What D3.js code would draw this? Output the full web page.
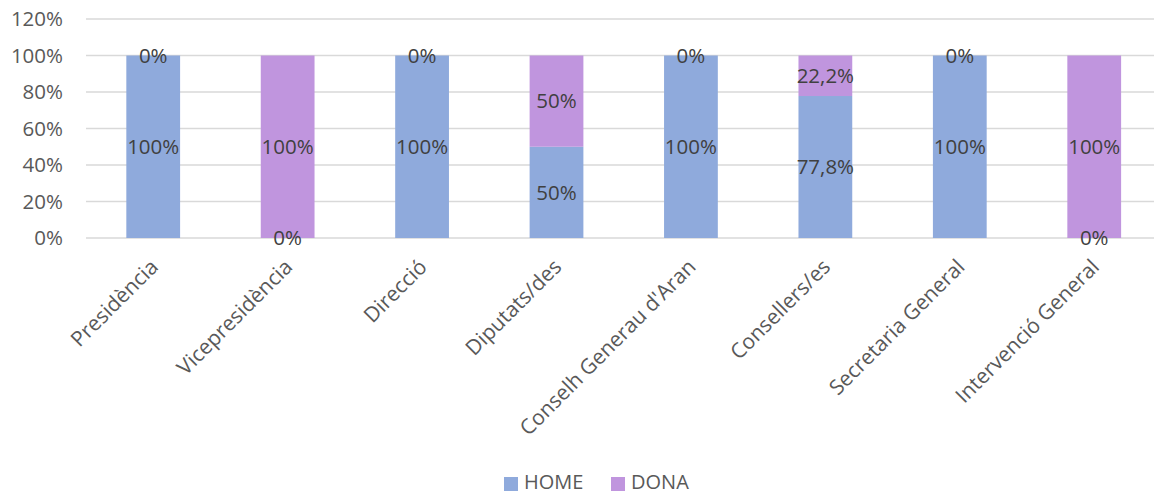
<!DOCTYPE html>
<html>
<head>
<meta charset="utf-8">
<script src="https://cdn.jsdelivr.net/npm/d3@7"></script>
<style>
  body { margin: 0; background: #fff; }
  text { font-family: "Open Sans", sans-serif; }
</style>
</head>
<body>
<div id="chart"></div>
<script>
// Chart data
var categories = ["Presidència", "Vicepresidència", "Direcció", "Diputats/des",
                  "Conselh Generau d'Aran", "Consellers/es", "Secretaria General", "Intervenció General"];
var home = [100, 0, 100, 50, 100, 77.8, 100, 0];
var dona = [0, 100, 0, 50, 0, 22.2, 0, 100];
var homeLabels = ["100%", "0%", "100%", "50%", "100%", "77,8%", "100%", "0%"];
var donaLabels = ["0%", "100%", "0%", "50%", "0%", "22,2%", "0%", "100%"];
var yTicks = [0, 20, 40, 60, 80, 100, 120];
var seriesNames = ["HOME", "DONA"];
var colors = ["#8FAADC", "#C095DE"];

var W = 1154, H = 495;
var margin = {top: 19, left: 86, bottom: 257};
var plotW = 134.43 * categories.length;
var plotH = H - margin.top - margin.bottom;
var fs = 20.5;

var svg = d3.select("#chart")
  .append("svg")
    .attr("width", W)
    .attr("height", H);

var g = svg.append("g")
  .attr("transform", "translate(" + margin.left + "," + margin.top + ")");

var x = d3.scaleBand()
  .domain(categories)
  .range([0, plotW])
  .paddingInner(0.6)
  .paddingOuter(0.3);

var y = d3.scaleLinear()
  .domain([0, 120])
  .range([plotH, 0]);

// gridlines
g.selectAll(".grid")
  .data(yTicks)
  .enter()
  .append("line")
    .attr("x1", 0)
    .attr("x2", plotW)
    .attr("y1", d => y(d))
    .attr("y2", d => y(d))
    .attr("stroke", "#D9D9D9")
    .attr("stroke-width", 1.3);

// y axis labels
g.selectAll(".ytick")
  .data(yTicks)
  .enter()
  .append("text")
    .attr("x", -23)
    .attr("y", d => y(d))
    .attr("dy", "0.35em")
    .attr("text-anchor", "end")
    .attr("font-size", fs)
    .attr("fill", "#595959")
    .text(d => d + "%");

// stacked bars
var rows = categories.map(function(c, i) {
  return {cat: c, HOME: home[i], DONA: dona[i], hl: homeLabels[i], dl: donaLabels[i]};
});
var stack = d3.stack().keys(seriesNames)(rows);

stack.forEach(function(layer, k) {
  g.selectAll(".bar" + k)
    .data(layer)
    .enter()
    .append("rect")
      .attr("x", d => x(d.data.cat))
      .attr("width", x.bandwidth())
      .attr("y", d => y(d[1]))
      .attr("height", d => y(d[0]) - y(d[1]))
      .attr("fill", colors[k]);
});

// data labels at the middle of each segment
stack.forEach(function(layer, k) {
  g.selectAll(".lab" + k)
    .data(layer)
    .enter()
    .append("text")
      .attr("x", d => x(d.data.cat) + x.bandwidth() / 2)
      .attr("y", d => y((d[0] + d[1]) / 2))
      .attr("dy", "0.35em")
      .attr("text-anchor", "middle")
      .attr("font-size", fs)
      .attr("fill", "#404040")
      .text(d => k == 0 ? d.data.hl : d.data.dl);
});

// category labels, rotated
g.selectAll(".xlab")
  .data(categories)
  .enter()
  .append("text")
    .attr("transform", d => "translate(" + (x(d) + x.bandwidth() / 2 + 1) + "," + (plotH + 25) + ") rotate(-45)")
    .attr("text-anchor", "end")
    .attr("dy", "0.35em")
    .attr("font-size", 21)
    .attr("fill", "#595959")
    .text(d => d);

// legend
var legend = svg.append("g")
  .attr("transform", "translate(504,477)");
var legX = [0, 107];
seriesNames.forEach(function(s, i) {
  legend.append("rect")
    .attr("x", legX[i])
    .attr("y", 0)
    .attr("width", 14)
    .attr("height", 14)
    .attr("fill", colors[i]);
  legend.append("text")
    .attr("x", legX[i] + 20)
    .attr("y", 5)
    .attr("dy", "0.35em")
    .attr("font-size", 20)
    .attr("fill", "#595959")
    .text(s);
});
</script>
</body>
</html>
